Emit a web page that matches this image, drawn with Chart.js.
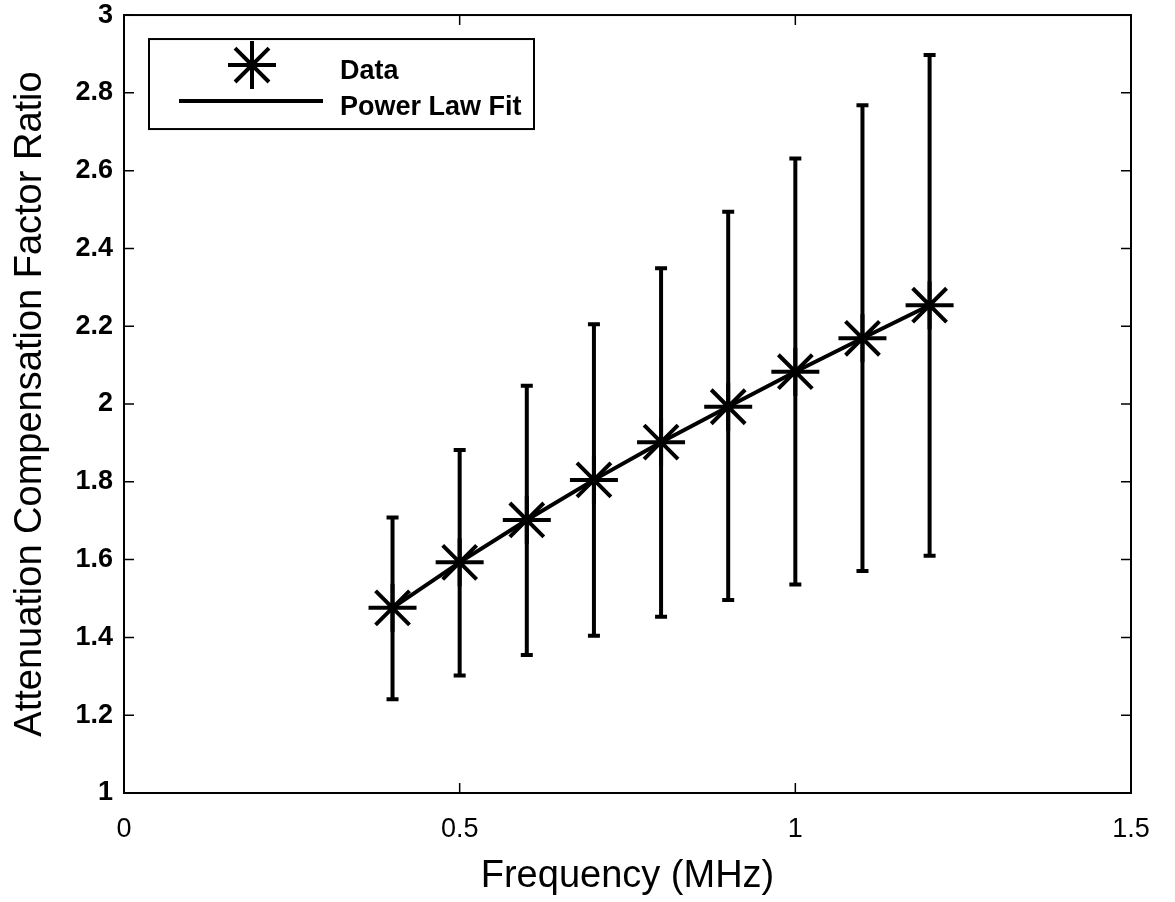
<!DOCTYPE html>
<html>
<head>
<meta charset="utf-8">
<title>Attenuation Compensation Factor Ratio vs Frequency</title>
<script src="https://cdn.jsdelivr.net/npm/chart.js@4.4.1/dist/chart.umd.min.js"></script>
<style>
  html, body { margin: 0; padding: 0; background: #ffffff; }
  #wrap { width: 1175px; height: 902px; }
</style>
</head>
<body>
<div id="wrap"><canvas id="chart" width="1175" height="902"></canvas></div>
<script>
// Frequencies (MHz)
const frequency = [0.4, 0.5, 0.6, 0.7, 0.8, 0.9, 1.0, 1.1, 1.2];
// Measured ratio (asterisks)
const ratioData = [1.476, 1.593, 1.702, 1.805, 1.902, 1.993, 2.083, 2.169, 2.254];
// Error bar limits
const ratioUpper = [1.708, 1.882, 2.047, 2.205, 2.349, 2.494, 2.631, 2.768, 2.897];
const ratioLower = [1.241, 1.302, 1.355, 1.404, 1.453, 1.496, 1.536, 1.571, 1.610];
// Power law fit evaluated at the same frequencies
const fitValues = [1.476, 1.593, 1.702, 1.805, 1.902, 1.993, 2.083, 2.169, 2.254];
// Axis ticks
const xTicks = [0, 0.5, 1, 1.5];
const yTicks = [1, 1.2, 1.4, 1.6, 1.8, 2, 2.2, 2.4, 2.6, 2.8, 3];

const seriesLabels = ['Data', 'Power Law Fit'];

const pointsOf = (ys) => frequency.map((f, i) => ({ x: f, y: ys[i] }));
const tickText = (v) => String(Number(Number(v).toFixed(2)));

// Error bars, axis frame, inward ticks and the boxed legend
const decorations = {
  id: 'decorations',
  beforeDatasetsDraw(chart) {
    const { ctx, scales: { x, y } } = chart;
    ctx.save();
    ctx.strokeStyle = '#000';
    ctx.lineWidth = 4;
    ctx.lineCap = 'butt';
    const cap = 6;
    frequency.forEach((f, i) => {
      const px = x.getPixelForValue(f);
      const top = y.getPixelForValue(ratioUpper[i]);
      const bot = y.getPixelForValue(ratioLower[i]);
      ctx.beginPath();
      ctx.moveTo(px, top);
      ctx.lineTo(px, bot);
      ctx.moveTo(px - cap, top);
      ctx.lineTo(px + cap, top);
      ctx.moveTo(px - cap, bot);
      ctx.lineTo(px + cap, bot);
      ctx.stroke();
    });
    ctx.restore();
  },
  afterDraw(chart) {
    const { ctx, chartArea: a, scales: { x, y } } = chart;
    ctx.save();
    ctx.strokeStyle = '#000';
    ctx.lineWidth = 2;
    ctx.strokeRect(a.left, a.top, a.right - a.left, a.bottom - a.top);

    const len = 10;
    ctx.beginPath();
    xTicks.forEach(v => {
      const px = x.getPixelForValue(v);
      ctx.moveTo(px, a.bottom); ctx.lineTo(px, a.bottom - len);
      ctx.moveTo(px, a.top); ctx.lineTo(px, a.top + len);
    });
    yTicks.forEach(v => {
      const py = y.getPixelForValue(v);
      ctx.moveTo(a.left, py); ctx.lineTo(a.left + len, py);
      ctx.moveTo(a.right, py); ctx.lineTo(a.right - len, py);
    });
    ctx.lineWidth = 1.5;
    ctx.stroke();

    // legend box
    const bx = a.left + 25, by = a.top + 24, bw = 385, bh = 90;
    ctx.fillStyle = '#fff';
    ctx.fillRect(bx, by, bw, bh);
    ctx.lineWidth = 2;
    ctx.strokeRect(bx, by, bw, bh);

    const sx = bx + 103;
    ctx.lineWidth = 4;
    ctx.strokeStyle = '#000';
    Chart.helpers.drawPoint(ctx, { pointStyle: 'star', radius: 24, borderWidth: 4 }, sx, by + 26);
    ctx.lineWidth = 4;
    ctx.beginPath();
    ctx.moveTo(bx + 30, by + 62);
    ctx.lineTo(bx + 174, by + 62);
    ctx.stroke();

    ctx.fillStyle = '#000';
    ctx.font = 'bold 27px "Liberation Sans", Arial, sans-serif';
    ctx.textAlign = 'left';
    ctx.textBaseline = 'alphabetic';
    ctx.fillText(seriesLabels[0], bx + 191, by + 40);
    ctx.fillText(seriesLabels[1], bx + 191, by + 76);
    ctx.restore();
  }
};

new Chart(document.getElementById('chart'), {
  type: 'scatter',
  data: {
    datasets: [
      {
        label: seriesLabels[1],
        type: 'line',
        data: pointsOf(fitValues),
        borderColor: '#000',
        borderWidth: 4,
        pointRadius: 0,
        tension: 0,
        fill: false
      },
      {
        label: seriesLabels[0],
        data: pointsOf(ratioData),
        showLine: false,
        pointStyle: 'star',
        pointRadius: 24,
        pointHoverRadius: 24,
        pointBorderWidth: 4,
        borderColor: '#000',
        backgroundColor: '#000'
      }
    ]
  },
  options: {
    responsive: false,
    animation: false,
    events: [],
    layout: { autoPadding: false, padding: { left: 0, right: 44, top: 15, bottom: 0 } },
    plugins: { legend: { display: false }, tooltip: { enabled: false } },
    scales: {
      x: {
        type: 'linear',
        min: 0, max: 1.5,
        afterBuildTicks: (s) => { s.ticks = xTicks.map(v => ({ value: v })); },
        afterFit: (s) => { s.height = 109; },
        grid: { display: false, drawTicks: false },
        border: { display: false },
        ticks: {
          padding: 20,
          color: '#000',
          maxRotation: 0,
          autoSkip: false,
          callback: tickText,
          font: { family: '"Liberation Sans", Arial, sans-serif', size: 27 }
        },
        title: {
          display: true,
          text: 'Frequency (MHz)',
          color: '#000',
          padding: { top: 0, bottom: 3 },
          font: { family: '"Liberation Sans", Arial, sans-serif', size: 38 }
        }
      },
      y: {
        type: 'linear',
        min: 1, max: 3,
        afterBuildTicks: (s) => { s.ticks = yTicks.map(v => ({ value: v })); },
        afterFit: (s) => { s.width = 124; },
        grid: { display: false, drawTicks: false },
        border: { display: false },
        ticks: {
          padding: 11,
          color: '#000',
          autoSkip: false,
          callback: tickText,
          font: { family: '"Liberation Sans", Arial, sans-serif', size: 27, weight: 'bold', lineHeight: 0.3 }
        },
        title: {
          display: true,
          text: 'Attenuation Compensation Factor Ratio',
          color: '#000',
          padding: { top: 8, bottom: 0 },
          font: { family: '"Liberation Sans", Arial, sans-serif', size: 38 }
        }
      }
    }
  },
  plugins: [decorations]
});
</script>
</body>
</html>
